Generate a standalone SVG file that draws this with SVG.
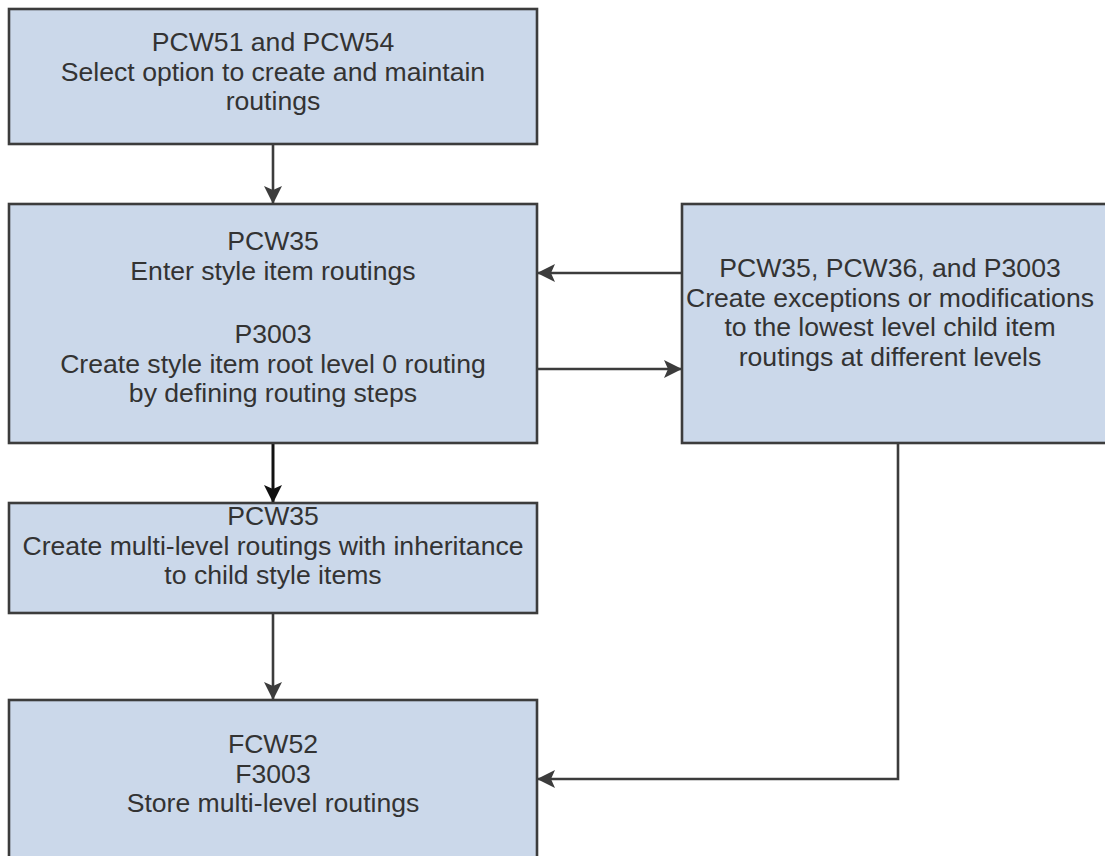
<svg xmlns="http://www.w3.org/2000/svg" width="1105" height="856" viewBox="0 0 1105 856">
<style>
.box{fill:#CBD8EA;stroke:#3c3c3c;stroke-width:2.6}
.t{font-family:"Liberation Sans",Arial,sans-serif;font-size:26.6px;fill:#333;text-anchor:middle}
.c{fill:none;stroke:#3c3c3c;stroke-width:2.6}
.cb{fill:none;stroke:#111;stroke-width:3}
</style>
<defs>
<marker id="ah" markerUnits="userSpaceOnUse" markerWidth="20" markerHeight="20" refX="18" refY="9" orient="auto">
<path d="M0,0 L18,9 L0,18 L4,9 Z" fill="#3c3c3c"/>
</marker>
<marker id="ahb" markerUnits="userSpaceOnUse" markerWidth="20" markerHeight="20" refX="18" refY="9" orient="auto">
<path d="M0,0 L18,9 L0,18 L4,9 Z" fill="#111"/>
</marker>
</defs>
<rect width="1105" height="856" fill="#fff"/>
<g id="connectors">
<path class="c" d="M273,144 L273,204" marker-end="url(#ah)"/>
<path class="cb" d="M273,443 L273,503" marker-end="url(#ahb)"/>
<path class="c" d="M273,613 L273,700" marker-end="url(#ah)"/>
<path class="c" d="M682,273 L537,273" marker-end="url(#ah)"/>
<path class="c" d="M537,369 L682,369" marker-end="url(#ah)"/>
<path class="c" d="M898,443 L898,779 L537,779" marker-end="url(#ah)"/>
</g>
<g id="n1">
<rect class="box" x="9" y="9" width="528" height="135"/>
<text class="t" x="273" y="51">PCW51 and PCW54</text>
<text class="t" x="273" y="80.5">Select option to create and maintain</text>
<text class="t" x="273" y="110">routings</text>
</g>
<g id="n2">
<rect class="box" x="9" y="204" width="528" height="239"/>
<text class="t" x="273" y="250">PCW35</text>
<text class="t" x="273" y="279.5">Enter style item routings</text>
<text class="t" x="273" y="343">P3003</text>
<text class="t" x="273" y="372.5">Create style item root level 0 routing</text>
<text class="t" x="273" y="402">by defining routing steps</text>
</g>
<g id="n3">
<rect class="box" x="682" y="204" width="440" height="239"/>
<text class="t" x="890" y="277">PCW35, PCW36, and P3003</text>
<text class="t" x="890" y="306.5">Create exceptions or modifications</text>
<text class="t" x="890" y="336">to the lowest level child item</text>
<text class="t" x="890" y="365.5">routings at different levels</text>
</g>
<g id="n4">
<rect class="box" x="9" y="503" width="528" height="110"/>
<text class="t" x="273" y="525">PCW35</text>
<text class="t" x="273" y="554.5">Create multi-level routings with inheritance</text>
<text class="t" x="273" y="584">to child style items</text>
</g>
<g id="n5">
<rect class="box" x="9" y="700" width="528" height="180"/>
<text class="t" x="273" y="753">FCW52</text>
<text class="t" x="273" y="782.5">F3003</text>
<text class="t" x="273" y="812">Store multi-level routings</text>
</g>
</svg>
